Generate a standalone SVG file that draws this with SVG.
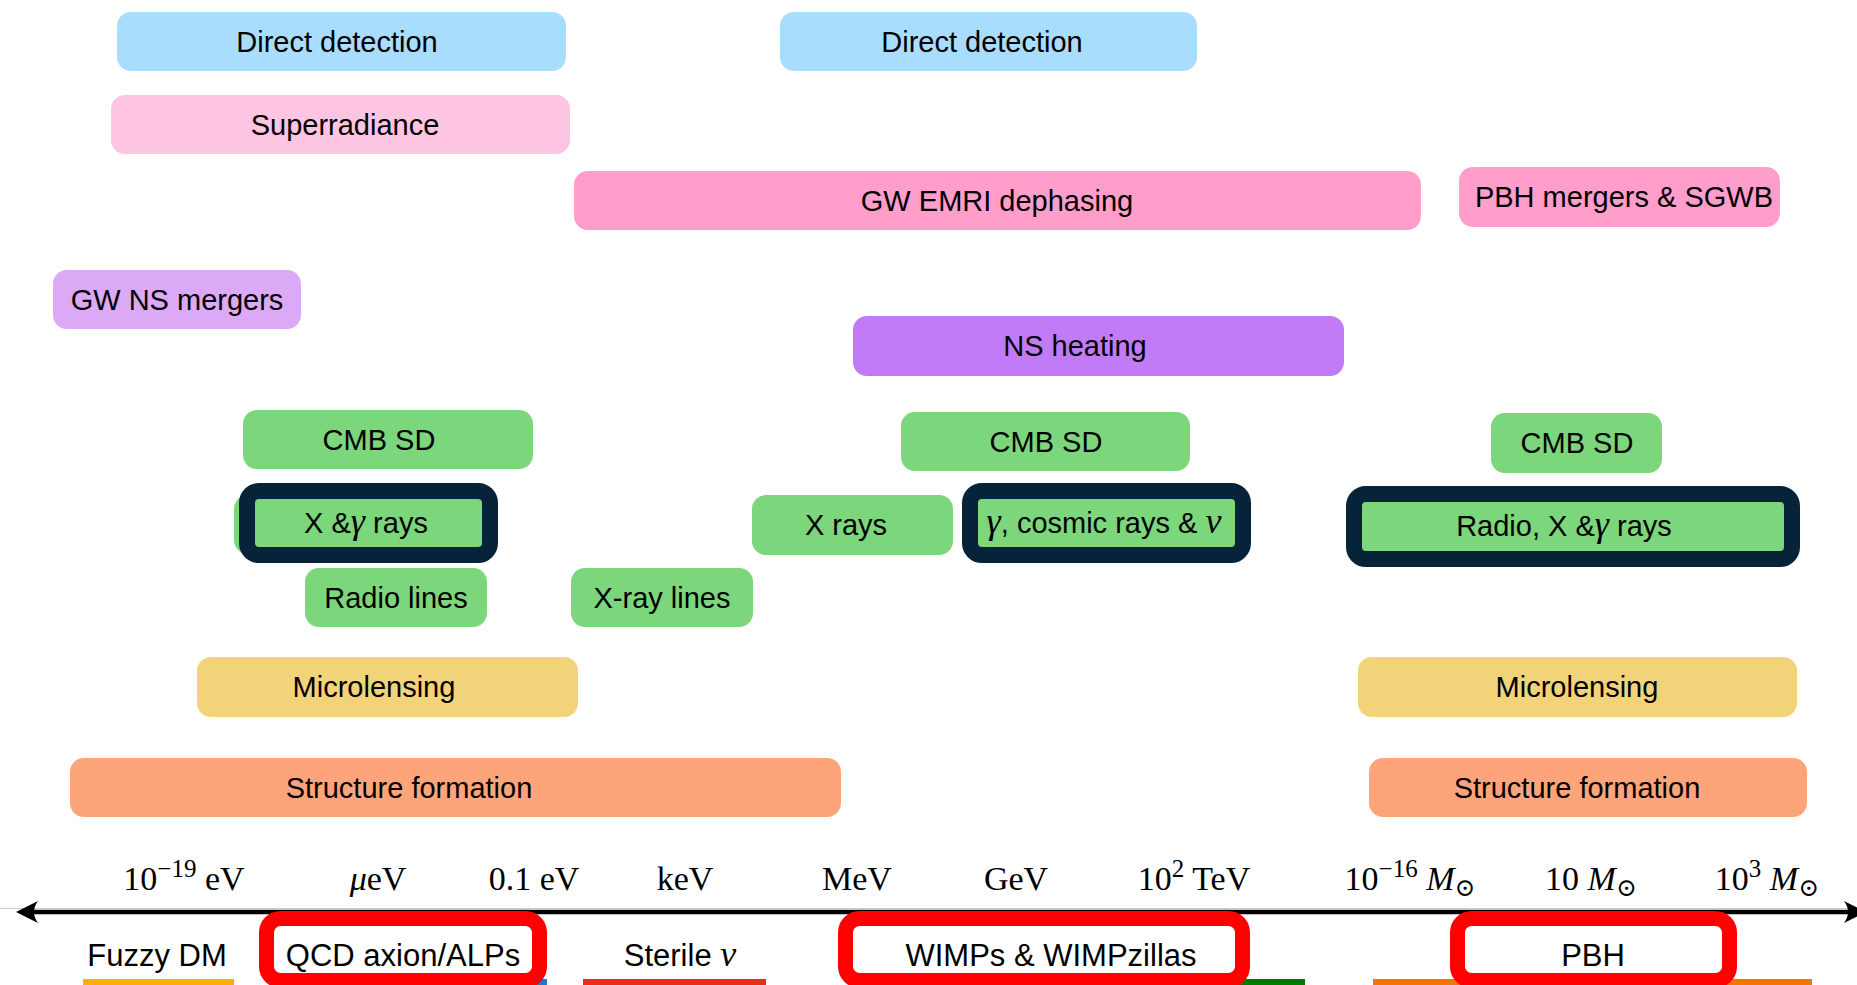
<svg xmlns="http://www.w3.org/2000/svg" width="1857" height="985" viewBox="0 0 1857 985">
<style>
.lbl{font-family:"Liberation Sans",Arial,sans-serif;font-size:29px;fill:#000;text-anchor:middle}
.bot{font-family:"Liberation Sans",Arial,sans-serif;font-size:31px;fill:#000;text-anchor:middle}
.ax{font-family:"Liberation Serif","DejaVu Serif",serif;font-size:34px;fill:#000;text-anchor:middle}
.m{font-family:"Liberation Serif","DejaVu Serif",serif;font-style:italic}
.g{font-family:"Liberation Serif","DejaVu Serif",serif;font-style:italic;font-size:36px}
.dd{fill:#a8ddfd}
.sr{fill:#fec5e3}
.gw{fill:#ff9dcb}
.ns1{fill:#dca9f6}
.ns2{fill:#c17bf6}
.gr{fill:#7cd67b}
.ml{fill:#f2d379}
.sf{fill:#fea47b}
.frame{fill:none;stroke:#06233a;stroke-width:16}
.red{fill:#fff;stroke:#ff0000;stroke-width:15}
</style>
<rect width="1857" height="985" fill="#fff"/>

<g id="direct-detection-1"><rect class="dd" x="117" y="12" width="449" height="59" rx="14"/><text class="lbl" x="337" y="51.5">Direct detection</text></g>
<g id="direct-detection-2"><rect class="dd" x="780" y="12" width="417" height="59" rx="14"/><text class="lbl" x="982" y="51.5">Direct detection</text></g>
<g id="superradiance"><rect class="sr" x="111" y="95" width="459" height="59" rx="14"/><text class="lbl" x="345" y="134.5">Superradiance</text></g>
<g id="gw-emri"><rect class="gw" x="574" y="171" width="847" height="59" rx="14"/><text class="lbl" x="997" y="210.5">GW EMRI dephasing</text></g>
<g id="pbh-mergers"><rect class="gw" x="1459" y="167" width="321" height="60" rx="14"/><text class="lbl" x="1624" y="207">PBH mergers &amp; SGWB</text></g>
<g id="gw-ns-mergers"><rect class="ns1" x="53" y="270" width="248" height="59" rx="14"/><text class="lbl" x="177" y="309.5">GW NS mergers</text></g>
<g id="ns-heating"><rect class="ns2" x="853" y="316" width="491" height="60" rx="14"/><text class="lbl" x="1075" y="356">NS heating</text></g>
<g id="cmb-sd-1"><rect class="gr" x="243" y="410" width="290" height="59" rx="14"/><text class="lbl" x="379" y="449.5">CMB SD</text></g>
<g id="cmb-sd-2"><rect class="gr" x="901" y="412" width="289" height="59" rx="14"/><text class="lbl" x="1046" y="451.5">CMB SD</text></g>
<g id="cmb-sd-3"><rect class="gr" x="1491" y="413" width="171" height="60" rx="14"/><text class="lbl" x="1577" y="453">CMB SD</text></g>

<g id="x-gamma-rays"><rect class="gr" x="234" y="495" width="256" height="59" rx="14"/><rect class="frame" x="247" y="491" width="243" height="64" rx="12"/><text class="lbl" x="366" y="533">X &amp;<tspan class="g">γ</tspan> rays</text></g>
<g id="radio-lines"><rect class="gr" x="305" y="568" width="182" height="59" rx="14"/><text class="lbl" x="396" y="607.5">Radio lines</text></g>
<g id="xray-lines"><rect class="gr" x="571" y="568" width="182" height="59" rx="14"/><text class="lbl" x="662" y="607.5">X-ray lines</text></g>
<g id="x-rays"><rect class="gr" x="752" y="495" width="201" height="60" rx="14"/><text class="lbl" x="846" y="535">X rays</text></g>
<g id="gamma-cosmic"><rect class="gr" x="966" y="495" width="281" height="56" rx="10"/><rect class="frame" x="970" y="491" width="273" height="64" rx="12"/><text class="lbl" x="1104" y="533"><tspan class="g">γ</tspan>, cosmic rays &amp; <tspan class="g">ν</tspan></text></g>
<g id="radio-x-gamma"><rect class="gr" x="1350" y="498" width="438" height="57" rx="10"/><rect class="frame" x="1354" y="494" width="438" height="65" rx="12"/><text class="lbl" x="1564" y="536">Radio, X &amp;<tspan class="g">γ</tspan> rays</text></g>

<g id="microlensing-1"><rect class="ml" x="197" y="657" width="381" height="60" rx="14"/><text class="lbl" x="374" y="697">Microlensing</text></g>
<g id="microlensing-2"><rect class="ml" x="1358" y="657" width="439" height="60" rx="14"/><text class="lbl" x="1577" y="697">Microlensing</text></g>
<g id="structure-1"><rect class="sf" x="70" y="758" width="771" height="59" rx="14"/><text class="lbl" x="409" y="797.5">Structure formation</text></g>
<g id="structure-2"><rect class="sf" x="1369" y="758" width="438" height="59" rx="14"/><text class="lbl" x="1577" y="797.5">Structure formation</text></g>

<g id="axis-labels">
<text class="ax" x="184" y="890">10<tspan font-size="25" dy="-13">−19</tspan><tspan dy="13"> eV</tspan></text>
<text class="ax" x="378" y="890"><tspan class="m">μ</tspan>eV</text>
<text class="ax" x="534" y="890">0.1 eV</text>
<text class="ax" x="685" y="890">keV</text>
<text class="ax" x="857" y="890">MeV</text>
<text class="ax" x="1016" y="890">GeV</text>
<text class="ax" x="1194" y="890">10<tspan font-size="25" dy="-13">2</tspan><tspan dy="13"> TeV</tspan></text>
<text class="ax" x="1410" y="890">10<tspan font-size="25" dy="-13">−16</tspan><tspan dy="13"> </tspan><tspan class="m">M</tspan><tspan font-size="25" dy="6">⊙</tspan></text>
<text class="ax" x="1591" y="890">10 <tspan class="m">M</tspan><tspan font-size="25" dy="6">⊙</tspan></text>
<text class="ax" x="1767" y="890">10<tspan font-size="25" dy="-13">3</tspan><tspan dy="13"> </tspan><tspan class="m">M</tspan><tspan font-size="25" dy="6">⊙</tspan></text>
</g>

<g id="connectors">
<line x1="0" y1="908.5" x2="1857" y2="908.5" stroke="#cccccc" stroke-width="1.2"/>
<line x1="26" y1="912" x2="1852" y2="912" stroke="#000" stroke-width="4.5"/>
<path d="M16,912 L38,901 Q30,912 38,923 Z" fill="#000"/>
<path d="M1866,912 L1844,901 Q1852,912 1844,923 Z" fill="#000"/>
</g>

<g id="underlines">
<rect x="83" y="979" width="151" height="8" fill="#ffae00"/>
<rect x="280" y="979" width="267" height="8" fill="#1f78d2"/>
<rect x="583" y="979" width="183" height="8" fill="#ee2a1a"/>
<rect x="1200" y="979" width="105" height="8" fill="#007a00"/>
<rect x="1373" y="979" width="439" height="8" fill="#f57600"/>
</g>

<g id="fuzzy-dm"><text class="bot" x="157" y="966">Fuzzy DM</text></g>
<g id="qcd-axion"><rect class="red" x="266.5" y="918.5" width="273" height="62" rx="14"/><text class="bot" x="403" y="966">QCD axion/ALPs</text></g>
<g id="sterile-nu"><text class="bot" x="680" y="966">Sterile <tspan class="g">ν</tspan></text></g>
<g id="wimps"><rect class="red" x="845.5" y="918.5" width="397" height="62" rx="14"/><text class="bot" x="1051" y="966">WIMPs &amp; WIMPzillas</text></g>
<g id="pbh"><rect class="red" x="1457.5" y="918.5" width="272" height="62" rx="14"/><text class="bot" x="1593" y="966">PBH</text></g>
</svg>
